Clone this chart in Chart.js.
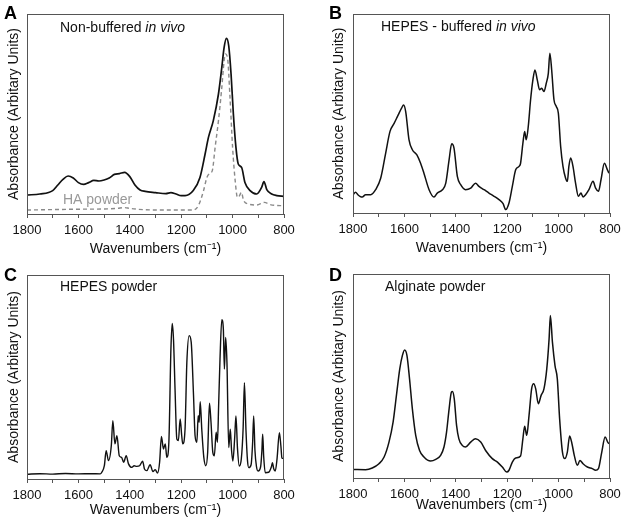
<!DOCTYPE html>
<html><head><meta charset="utf-8">
<script src="https://cdn.jsdelivr.net/npm/chart.js@4/dist/chart.umd.min.js"></script>
<style>
html,body{margin:0;padding:0;background:#fff;width:624px;height:524px;overflow:hidden}
.p{position:absolute;width:312px;height:262px}
canvas{display:block}
</style></head><body>
<div class="p" style="left:0;top:0"><canvas id="cA" width="312" height="262"></canvas></div>
<div class="p" style="left:312px;top:0"><canvas id="cB" width="312" height="262"></canvas></div>
<div class="p" style="left:0;top:262px"><canvas id="cC" width="312" height="262"></canvas></div>
<div class="p" style="left:312px;top:262px"><canvas id="cD" width="312" height="262"></canvas></div>
<script>
// ---- data (wavenumber in cm-1, absorbance in arbitrary units) ----
const xTickLabels = [1800,1600,1400,1200,1000,800];

const wnA = [1800,1750,1700,1680,1660,1640,1620,1600,1580,1560,1540,1520,1500,1480,1460,1440,1420,1400,1380,1360,1340,1300,1260,1240,1220,1200,1185,1153,1127,1107,1094,1075,1055,1042,1033,1024,1015,1006,997,987,978,965,952,932,906,887,878,867,848,828,800];
const absA = [9.5,10,11.7,14.5,17.3,19,18,15.7,14.8,15.7,16.8,16.5,17,18,19.8,20.2,20.8,18.7,14.5,12,11.3,10.7,10.2,10.7,10,9.2,9.2,11.7,18.3,30,38.3,46.7,60,73.3,83.3,87.8,84,70,50,33.3,25,23.3,15.8,11.7,10,13.3,16.2,12.2,10,9.2,8.8];

const wnHA = [1800,1700,1600,1500,1450,1420,1400,1350,1300,1200,1153,1133,1113,1100,1089,1079,1068,1055,1042,1033,1028,1020,1010,1000,990,981,973,966,957,938,906,876,854,815,800];
const absHA = [2,2.2,2.4,2.5,2.8,3.2,2.8,2.2,2,2,2,4.2,11.7,18.3,20.3,21.7,33.3,46.7,63.3,76.7,80,78.3,58,33.3,16.7,8.3,9.2,10.8,6.7,5,4.5,5.8,4.7,4.2,4.2];

const wnB = [1800,1790,1781,1773,1764,1751,1731,1712,1692,1673,1656,1640,1624,1611,1603,1595,1582,1569,1552,1537,1524,1504,1485,1472,1452,1439,1426,1416,1407,1394,1381,1362,1342,1323,1310,1290,1271,1251,1232,1216,1206,1193,1180,1167,1154,1148,1139,1132,1126,1118,1109,1100,1092,1083,1074,1066,1057,1048,1040,1034,1027,1018,1009,1001,992,983,973,966,960,953,944,934,923,913,905,895,882,866,856,845,835,822,810,804];
const absB = [9.2,10.4,9.2,8.4,8,9.2,9.2,11.7,17.6,30,41,45,49.3,52.7,54.3,51,36.8,31.8,29.3,25,20,11.7,8,10,11.7,15,26.8,34.8,32.6,18.4,14.2,11.7,12.5,15,13.4,11.7,10,8.4,6.7,4.7,1.7,5,13.4,21.7,23.4,25,35,41,36.8,43.5,56.9,66.9,71.9,66.9,61.9,62.7,61,65.2,70.2,80.3,72,56.9,53.5,50.2,33.4,23.4,17.6,15.9,23.4,27.6,23.4,15,8.4,10,8,9.2,11.7,15.9,12.5,10.9,16.7,25,21.7,20];

const wnC = [1800,1750,1700,1650,1600,1550,1515,1509,1499,1492,1483,1472,1466,1458,1450,1441,1432,1424,1414,1405,1392,1383,1373,1362,1350,1343,1334,1321,1310,1301,1292,1284,1277,1269,1262,1256,1248,1240,1235,1230,1224,1217,1211,1204,1198,1194,1185,1178,1169,1161,1152,1146,1139,1134,1130,1126,1120,1112,1104,1097,1090,1084,1077,1071,1064,1059,1054,1049,1042,1036,1032,1027,1022,1015,1009,1004,999,992,987,981,974,966,959,954,948,942,937,928,922,918,913,907,901,891,886,883,879,873,860,849,845,840,834,827,818,812,808,803];
const absC = [2.3,2.6,2.4,2.7,2.5,2.6,2.5,3.3,6.5,13.9,9,16.3,28.6,17.2,21.2,11.4,10.6,8.2,11.4,7.4,5.7,6.5,6.2,6.5,8.7,4.9,4.1,7,3.6,4.6,2.9,8.2,20.9,14.7,17.2,10.6,18,63.7,76.3,68.6,44.1,19.6,18.8,29.4,21.2,17.2,24.5,57.2,70.3,67,40.8,21.2,18,31,27.8,37.9,24.5,10.6,6.5,13.1,37.1,27.8,13.1,11.4,22.9,18,37.6,58.8,78.1,73.5,53.9,69.4,57.2,15.4,24.4,14,8.8,20,30.9,15,6.4,10,25,47.2,24,9,5.6,7,18,30.9,14,6,3.9,6,14,21.9,11,3.1,3.3,6,8,5,3.9,10,22.7,16,10.3,10.1];

const wnD = [1800,1751,1725,1699,1679,1660,1644,1631,1618,1608,1599,1590,1580,1569,1556,1541,1524,1498,1478,1459,1446,1436,1426,1417,1413,1406,1397,1388,1375,1362,1342,1323,1303,1284,1258,1238,1219,1202,1193,1180,1167,1148,1139,1132,1124,1115,1105,1097,1089,1079,1068,1057,1046,1037,1032,1024,1014,1005,996,985,976,966,957,948,939,927,917,905,888,869,856,845,832,819,809,804];
const absD = [4.2,4.1,4.9,7,10.3,17.6,27.4,40.5,53.5,60,62.8,60,48.6,33.9,20.9,13.5,10.3,8.3,9.1,11.1,15.2,22.5,33.9,42.1,42.4,38.8,25.8,19.2,16,15.2,17.6,19.2,17.6,13.5,9.5,7.8,5.4,2.9,3.8,7.8,9.8,10.8,19.2,25.4,20.9,30.7,43.7,46.2,43.7,36.4,40.5,43.7,53.5,68.2,79.6,66.6,55.1,48.6,29,12.7,9.5,12.7,20.6,16.8,11.1,6.2,8.6,7,5.4,4.6,3.8,4.6,12.7,20.1,17.6,16.8];

// ---- rendering ----
const F = '"Liberation Sans", Arial, Helvetica, sans-serif';
const pts = (xs, ys) => xs.map((x, i) => ({x, y: ys[i]}));

const boxText = {
  id: 'boxText',
  afterDraw(c, args, o) {
    const ctx = c.ctx, a = c.chartArea;
    ctx.save();
    ctx.strokeStyle = '#555'; ctx.lineWidth = 1;
    ctx.strokeRect(Math.round(a.left) + 0.5, Math.round(a.top) + 0.5,
                   Math.round(a.right - a.left) - 1, Math.round(a.bottom - a.top));
    ctx.textBaseline = 'alphabetic'; ctx.textAlign = 'left';
    ctx.fillStyle = '#000';
    ctx.font = 'bold 18px ' + F;
    ctx.fillText(o.letter, o.lx, o.ly);
    let x = o.tx;
    for (const p of o.parts) {
      ctx.font = (p.it ? 'italic ' : '') + '14px ' + F;
      ctx.fillStyle = '#111';
      ctx.fillText(p.t, x, o.ty);
      x += ctx.measureText(p.t).width;
    }
    if (o.extra) {
      ctx.font = '14px ' + F; ctx.fillStyle = '#999';
      ctx.fillText(o.extra.t, o.extra.x, o.extra.y);
    }
    ctx.restore();
  }
};

function panel(id, datasets, g, txt) {
  return new Chart(document.getElementById(id), {
    type: 'line',
    data: {datasets},
    options: {
      responsive: false, animation: false, events: [],
      layout: {padding: {left: 0, right: 312 - g.r, top: g.t, bottom: 0}},
      elements: {point: {radius: 0}},
      plugins: {legend: {display: false}, tooltip: {enabled: false}, boxText: txt},
      scales: {
        x: {
          type: 'linear', reverse: true, min: 800, max: 1800,
          afterFit: s => { s.height = 262 - g.b; s.paddingLeft = 0; s.paddingRight = 0; },
          ticks: {stepSize: 100, autoSkip: false, maxRotation: 0, color: '#111', padding: 5,
                  font: {size: 13, family: F},
                  callback: v => xTickLabels.includes(v) ? String(v) : ''},
          grid: {drawOnChartArea: false, color: '#555', tickLength: 4},
          border: {display: false},
          title: {display: true, text: 'Wavenumbers (cm⁻¹)', color: '#111',
                  font: {size: 14, family: F}, padding: {top: 0, bottom: g.xt}}
        },
        y: {
          min: 0, max: 100,
          afterFit: s => { s.width = g.l; },
          ticks: {display: false}, grid: {display: false}, border: {display: false},
          title: {display: true, text: 'Absorbance (Arbitary Units)', color: '#111',
                  font: {size: 14, family: F}, padding: {top: g.yt, bottom: 0}}
        }
      }
    },
    plugins: [boxText]
  });
}

const line = (data, w) => ({data, borderColor: '#111', borderWidth: w, fill: false,
  cubicInterpolationMode: 'monotone'});

panel('cA', [
  line(pts(wnA, absA), 1.7),
  {data: pts(wnHA, absHA), borderColor: '#8a8a8a', borderWidth: 1.4, borderDash: [4, 3],
   fill: false, cubicInterpolationMode: 'monotone'}
], {l: 27, r: 284, t: 14, b: 214, xt: 4.5, yt: 5.4},
{letter: 'A', lx: 4, ly: 19, tx: 60, ty: 31.5,
 parts: [{t: 'Non-buffered '}, {t: 'in vivo', it: true}],
 extra: {t: 'HA powder', x: 63, y: 204}});

panel('cB', [line(pts(wnB, absB), 1.5)],
{l: 41, r: 298, t: 14, b: 213, xt: 5, yt: 19},
{letter: 'B', lx: 17, ly: 19, tx: 69, ty: 31,
 parts: [{t: 'HEPES - buffered '}, {t: 'in vivo', it: true}]});

panel('cC', [line(pts(wnC, absC), 1.4)],
{l: 27, r: 284, t: 13, b: 217, xt: 5.6, yt: 5.3},
{letter: 'C', lx: 4, ly: 19, tx: 60, ty: 28.5,
 parts: [{t: 'HEPES powder'}]});

panel('cD', [line(pts(wnD, absD), 1.5)],
{l: 41, r: 298, t: 12, b: 216, xt: 10, yt: 18.6},
{letter: 'D', lx: 17, ly: 19, tx: 73, ty: 28.5,
 parts: [{t: 'Alginate powder'}]});
</script>
</body></html>
